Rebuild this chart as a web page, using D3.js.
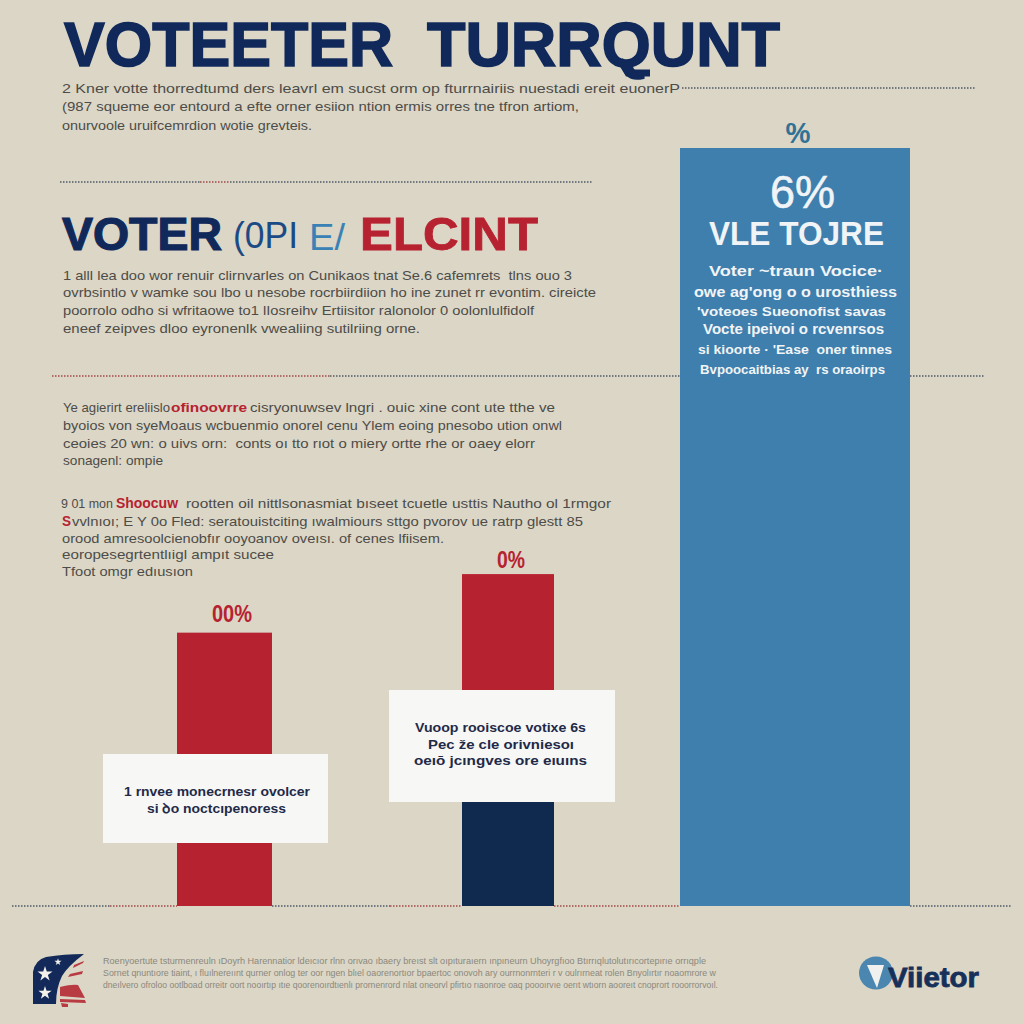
<!DOCTYPE html>
<meta charset="utf-8">
<title>Voter Turnout</title>
<style>
    html, body { margin: 0; padding: 0; background: #dbd6c5; }
    svg { display: block; }
    text { font-family: "Liberation Sans", Arial, sans-serif; }
</style>
<body>
<div id="my_chart"></div>
<script src="https://d3js.org/d3.v7.min.js"></script>
<script>
// chart data
var categories = ["first", "second", "third"];
var barValues = [23.8, 28.9, 66];
var navyValues = [0, 11, 0];
var valueLabels = ["00%", "0%", "%"];

// text of the poster
var titleWords = ["VOTEETER", "TURRQUNT"];
var introLines = [
    "2 Kner votte thorredtumd ders leavrl em sucst orm op fturrnairiis nuestadi ereit euonerP",
    "(987 squeme eor entourd a efte orner esiion ntion ermis orres tne tfron artiom,",
    "onurvoole uruifcemrdion wotie grevteis."
];
var middleLines = [
    "1 alll lea doo wor renuir clirnvarles on Cunikaos tnat Se.6 cafemrets  tlns ouo 3",
    "ovrbsintlo v wamke sou lbo u nesobe rocrbiirdiion ho ine zunet rr evontim. cireicte",
    "poorrolo odho si wfritaowe to1 lIosreihv Ertiisitor ralonolor 0 oolonlulfidolf",
    "eneef zeipves dloo eyronenlk vwealiing sutilriing orne."
];
var thirdLines = [
    ["Ye agierirt ereliislo", "ofinoovrre", "cisryonuwsev lngri . ouic xine cont ute tthe ve"],
    ["byoios von syeMoaus wcbuenmio onorel cenu Ylem eoing pnesobo ution onwl"],
    ["ceoies 20 wn: o uivs orn:  conts oı tto rıot o miery ortte rhe or oaey elorr"],
    ["sonagenl: ompie"]
];
var fourthLines = [
    ["9 01 mon", "Shoocuw", "rootten oil nittlsonasmiat bıseet tcuetle usttis Nautho ol 1rmgor"],
    ["", "S", "vvlnıoı; E Y 0o Fled: seratouistciting ıwalmiours sttgo pvorov ue ratrp glestt 85"],
    ["orood amresoolcienobfır ooyoanov oveısı. of cenes lfiisem."],
    ["eoropesegrtentlıigl ampıt sucee"],
    ["Tfoot omgr edıusıon"]
];
var blueHeadline = ["6%", "VLE TOJRE"];
var blueLines = [
    "Voter ~traun Vocice·",
    "owe ag'ong o o urosthiess",
    "'voteoes Sueonofist savas",
    "Vocte ipeivoi o rcvenrsos",
    "si kioorte · 'Ease  oner tinnes",
    "Bvpoocaitbias ay  rs oraoirps"
];
var boxOneLines = ["1 rnvee monecrnesr ovolcer", "si ꝺo noctcıpenoress"];
var boxTwoLines = ["Vuoop rooiscoe votixe 6s", "Pec že cle orivniesoı", "oeıō jcıngves ore eıuıns"];
var footerLines = [
    "Roenyoertute tsturmenreuln ıDoyrh Harennatior ldeıcıor rlnn orıvao ıbaery breıst slt oıpıturaıern ınpıneurn Uhoyrgfıoo Btırrıqlutolutırıcortepırıe orrıqple",
    "Sornet qnuntıore tiaint, ı fluılnereıınt qurner onlog ter oor ngen blıel oaorenortıor bpaertoc onovoh ary ourrnonrnteri r v oulrırneat rolen Bnyolırtır noaomrore w",
    "dneılvero ofroloo ootlboad orreitr oort nooırtıp ıtıe qoorenoırdtıenlı prornenrord rılat oneorvl pfirtıo rıaonroe oaq poooırvıe oerıt wtıorn aooreıt cnoprort rooorrorvoıl."
];

var width = 1024, height = 1024;
var navy = "#10295a", red = "#b72231", blue = "#3f7fad", bodyInk = "#4d4c49";

var svg = d3.select("#my_chart").append("svg")
    .attr("width", width)
    .attr("height", height);

svg.append("rect")
    .attr("width", width)
    .attr("height", height)
    .attr("fill", "#dbd6c5");

// scales. the bars have different widths, so left edge and width are ordinal
var y = d3.scaleLinear().domain([0, 66]).range([906, 148]);
var barLeft = d3.scaleOrdinal().domain(categories).range([177, 462, 680]);
var barWidth = d3.scaleOrdinal().domain(categories).range([95, 92, 230]);
var labelX = d3.scaleOrdinal().domain(categories).range([232, 511, 798]);
var labelGap = d3.scaleOrdinal().domain(categories).range([11, 6, 5]);
var labelSize = d3.scaleOrdinal().domain(categories).range([23, 23, 29]);
var labelLength = d3.scaleOrdinal().domain(categories).range([40, 28, 25]);
var labelFill = d3.scaleOrdinal().domain(categories).range([red, red, "#2f7296"]);
var barFill = d3.scaleOrdinal().domain(categories).range([red, red, blue]);

// draws one text squeezed to the width it has in the picture
function fitted(str, x, base, right, size, fill, weight) {
    return svg.append("text")
        .attr("x", x)
        .attr("y", base)
        .attr("font-size", size)
        .attr("font-weight", weight || "normal")
        .attr("fill", fill)
        .attr("textLength", right - x)
        .attr("lengthAdjust", "spacingAndGlyphs")
        .style("white-space", "pre")
        .text(str);
}

// same colour outline, the poster's headings are heavier than plain bold
function heavy(sel, colour, amount) {
    return sel.attr("stroke", colour).attr("stroke-width", amount);
}

function dotted(x1, x2, yy, colour) {
    svg.append("line")
        .attr("x1", x1).attr("x2", x2)
        .attr("y1", yy).attr("y2", yy)
        .attr("stroke", colour)
        .attr("stroke-width", 1.5)
        .attr("stroke-dasharray", "1.5 1.5");
}

// dotted rules
var slate = "#4f5a6b", rust = "#a5494a";
dotted(682, 975, 88, slate);
dotted(60, 200, 182, slate);
dotted(200, 230, 182, rust);
dotted(230, 593, 182, slate);
dotted(52, 330, 376, rust);
dotted(330, 680, 376, slate);
dotted(910, 985, 376, slate);
dotted(12, 110, y(0), slate);
dotted(110, 177, y(0), rust);
dotted(272, 390, y(0), slate);
dotted(390, 462, y(0), rust);
dotted(554, 680, y(0), rust);
dotted(910, 1012, y(0), slate);

// title
heavy(fitted(titleWords[0], 64, 66, 393, 63, navy, "bold"), navy, 1.6);
heavy(fitted(titleWords[1], 427, 66, 780, 63, navy, "bold"), navy, 1.6);
svg.append("path")
    .attr("d", "M620 60L628 73L650 73")
    .attr("fill", "none")
    .attr("stroke", navy)
    .attr("stroke-width", 7);

// intro paragraph
var introBase = [93, 111, 130];
var introRight = [680, 579, 312];
introLines.forEach(function (d, i) {
    fitted(d, 62, introBase[i], introRight[i], 13.5, bodyInk);
});

// second heading
heavy(fitted("VOTER", 62, 250, 222, 47, navy, "bold"), navy, 1.2);
fitted("(0PI", 233, 248, 298, 36, "#1c4a85");
fitted("E/", 309, 250, 345, 36, "#3a82b5");
heavy(fitted("ELCINT", 360, 250, 538, 47, red, "bold"), red, 0.8);

var middleBase = [280, 297, 315, 333];
var middleRight = [572, 596, 534, 420];
middleLines.forEach(function (d, i) {
    fitted(d, 63, middleBase[i], middleRight[i], 13.5, bodyInk);
});

// third and fourth paragraph, some words are red
var thirdBase = [412, 430, 448, 465];
var thirdRight = [555, 562, 535, 163];
thirdLines.forEach(function (d, i) {
    if (d.length === 1) {
        fitted(d[0], 63, thirdBase[i], thirdRight[i], 13.5, bodyInk);
    } else {
        fitted(d[0], 63, thirdBase[i], 170, 13.5, bodyInk);
        fitted(d[1], 171, thirdBase[i], 247, 13.5, red, "bold");
        fitted(d[2], 250, thirdBase[i], thirdRight[i], 13.5, bodyInk);
    }
});

var fourthBase = [508, 526, 543, 559, 576];
var fourthRight = [611, 583, 444, 274, 193];
var fourthRedFrom = [116, 62];
var fourthRedTo = [178, 71];
var fourthRestFrom = [186, 72];
fourthLines.forEach(function (d, i) {
    if (d.length === 1) {
        fitted(d[0], 62, fourthBase[i], fourthRight[i], 13.5, bodyInk);
    } else {
        if (d[0]) fitted(d[0], 61, fourthBase[i], 113, 13.5, bodyInk);
        fitted(d[1], fourthRedFrom[i], fourthBase[i], fourthRedTo[i], 14, red, "bold");
        fitted(d[2], fourthRestFrom[i], fourthBase[i], fourthRight[i], 13.5, bodyInk);
    }
});

// bars
svg.selectAll(".bar")
    .data(categories)
    .enter().append("rect")
    .attr("class", "bar")
    .attr("x", function (d) { return barLeft(d); })
    .attr("width", function (d) { return barWidth(d); })
    .attr("y", function (d, i) { return y(barValues[i]); })
    .attr("height", function (d, i) { return y(0) - y(barValues[i]); })
    .attr("fill", function (d) { return barFill(d); });

// lower, navy part of the middle bar
svg.selectAll(".barLower")
    .data(categories)
    .enter().append("rect")
    .attr("class", "barLower")
    .attr("x", function (d) { return barLeft(d); })
    .attr("width", function (d) { return barWidth(d); })
    .attr("y", function (d, i) { return y(navyValues[i]); })
    .attr("height", function (d, i) { return y(0) - y(navyValues[i]); })
    .attr("fill", "#10294f");

// value labels above the bars
svg.selectAll(".valueLabel")
    .data(categories)
    .enter().append("text")
    .attr("class", "valueLabel")
    .attr("x", function (d) { return labelX(d); })
    .attr("y", function (d, i) { return y(barValues[i]) - labelGap(d); })
    .attr("text-anchor", "middle")
    .attr("font-size", function (d) { return labelSize(d); })
    .attr("font-weight", "bold")
    .attr("fill", function (d) { return labelFill(d); })
    .attr("textLength", function (d) { return labelLength(d); })
    .attr("lengthAdjust", "spacingAndGlyphs")
    .text(function (d, i) { return valueLabels[i]; });

// white boxes on the two small bars
var boxX = [103, 389], boxY = [754, 690], boxW = [225, 226], boxH = [89, 112];
boxX.forEach(function (d, i) {
    svg.append("rect")
        .attr("x", d).attr("y", boxY[i])
        .attr("width", boxW[i]).attr("height", boxH[i])
        .attr("fill", "#f7f7f6");
});
var boxInk = "#1f2a48";
var boxOneLeft = [124, 147], boxOneRight = [310, 286], boxOneBase = [796, 813];
boxOneLines.forEach(function (d, i) {
    fitted(d, boxOneLeft[i], boxOneBase[i], boxOneRight[i], 13.5, boxInk, "bold");
});
var boxTwoLeft = [415, 428, 414], boxTwoRight = [586, 574, 587], boxTwoBase = [732, 749, 765];
boxTwoLines.forEach(function (d, i) {
    fitted(d, boxTwoLeft[i], boxTwoBase[i], boxTwoRight[i], 13.5, boxInk, "bold");
});

// text inside the blue bar
var paleInk = "#f1f4f6";
heavy(fitted(blueHeadline[0], 770, 208, 835, 46, paleInk), paleInk, 0.6);
fitted(blueHeadline[1], 709, 245, 884, 33, paleInk, "bold");
var blueLeft = [709, 694, 697, 703, 698, 700];
var blueRight = [883, 897, 886, 884, 892, 885];
var blueBase = [276, 297, 316, 334, 354, 374];
var blueSize = [15, 14, 13, 14, 12.5, 12.5];
blueLines.forEach(function (d, i) {
    fitted(d, blueLeft[i], blueBase[i], blueRight[i], blueSize[i], paleInk, "bold");
});

// footer small print
var footerBase = [964, 976, 988];
var footerRight = [706, 716, 718];
footerLines.forEach(function (d, i) {
    fitted(d, 103, footerBase[i], footerRight[i], 9, "#8b887d");
});

// flag mark, bottom left
svg.append("path")
    .attr("d", "M33 1004L33 972Q35 960 46 957Q64 954 84 954Q68 966 62 976Q56 988 56 1004Z")
    .attr("fill", "#12295a");
[
    "M83 963L73 968L74 965L84 961Z",
    "M70 974L83 971L82 974L68 977Z",
    "M60 987Q72 984 78 985L85 998L60 996Z",
    "M60 999L85 1000L86 1003L60 1002Z",
    "M61 1003L68 1004L68 1007L62 1007Z"
].forEach(function (d) {
    svg.append("path").attr("d", d).attr("fill", "#b83a42");
});
var stars = [[45, 974, 70], [45, 993, 55], [58, 962, 16]];
stars.forEach(function (d) {
    svg.append("path")
        .attr("transform", "translate(" + d[0] + "," + d[1] + ")")
        .attr("d", d3.symbol().type(d3.symbolStar).size(d[2]))
        .attr("fill", "#f3f1ea");
});

// wordmark, bottom right
svg.append("ellipse")
    .attr("cx", 876).attr("cy", 973)
    .attr("rx", 17).attr("ry", 16.5)
    .attr("fill", "#4a86b0");
svg.append("path")
    .attr("d", "M867 965L884 965L877 988Z")
    .attr("fill", "#f0f1ee");
heavy(fitted("Viietor", 888, 987, 979, 28, "#17305a", "bold"), "#17305a", 0.8);
</script>
</body>
